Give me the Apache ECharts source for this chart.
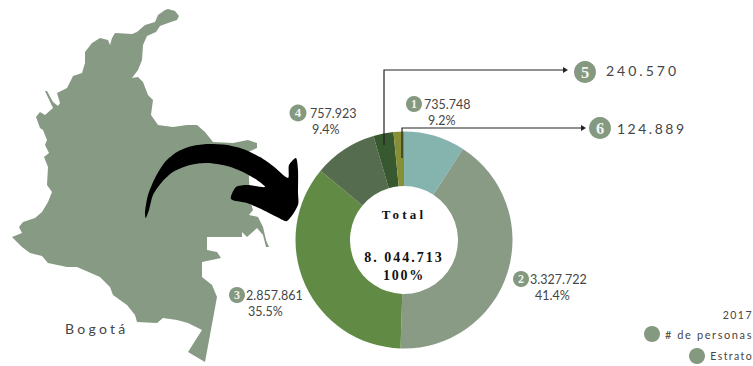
<!DOCTYPE html>
<html>
<head>
<meta charset="utf-8">
<style>html,body{margin:0;padding:0;background:#fff}#main{width:753px;height:366px}</style>
<script src="https://cdn.jsdelivr.net/npm/echarts@6/dist/echarts.min.js"></script>
</head>
<body>
<div id="main"></div>
<script>
// Population of Bogotá by socio-economic stratum, 2017
const strata = ['1', '2', '3', '4', '5', '6'];
const people = [735748, 3327722, 2857861, 757923, 240570, 124889];
const shares = ['9.2%', '41.4%', '35.5%', '9.4%', '', ''];
const peopleText = ['735.748', '3.327.722', '2.857.861', '757.923', '240.570', '124.889'];
const sliceColors = ['#85b3ae', '#8a9b85', '#618b45', '#566c4e', '#38592f', '#878f36'];
const totalText = '8. 044.713';

const SAGE = '#84997f';
const INK = '#454545';
const SANS = 'Lato, "Open Sans", sans-serif';
const SERIF = '"Liberation Serif", "DejaVu Serif", serif';

// Outline of the country silhouette behind the donut
const countryOutline = [
  [168,9],[175,11],[179,16],[177,20],[168,23],[160,26],[156,32],[147,36],[143,45],[142,60],[138,70],[132,78],
  [138,77],[143,82],[148,95],[153,100],[151,115],[158,125],[173,127],[187,125],[197,125],[205,132],[213,142],
  [233,143],[248,140],[257,143],[257,148],[248,152],[249,178],[250,200],[253,210],[249,215],[258,217],[263,227],
  [266,240],[269,247],[266,247],[263,235],[257,228],[247,237],[242,232],[242,237],[207,237],[207,250],[217,252],
  [221,258],[202,262],[202,277],[212,285],[217,297],[205,362],[188,352],[202,330],[188,323],[177,320],[163,318],
  [157,323],[137,322],[135,315],[127,305],[113,295],[110,287],[100,277],[77,267],[67,267],[48,263],[42,256],
  [30,253],[22,247],[12,237],[22,233],[19,227],[23,222],[35,218],[42,212],[48,202],[52,192],[47,185],[48,167],
  [44,157],[49,153],[45,145],[47,140],[43,130],[40,128],[36,117],[40,112],[45,115],[53,108],[45,91],[47,91],
  [53,102],[58,106],[60,103],[57,93],[67,88],[73,76],[82,73],[85,63],[85,52],[92,43],[100,38],[108,40],[110,45],
  [112,38],[115,33],[132,34],[137,32],[145,25],[155,22],[158,15],[165,10]
];

// Curved black arrow pointing from the map to the donut
const arrowOutline = [
  [145.7,218],[145,212],[148,195],[155,178],[165,162],[177,152],[192,146],[208,144],[227,145],[243,149],[260,157],
  [273,166],[288,178],[289,165],[296,158],[298,170],[298,193],[298,205],[287,221],[277,217],[263,210],[247,203],
  [231,199],[236,187],[247,185],[265,187],[257,180],[243,172],[227,166],[207,163],[190,165],[173,172],[162,182],
  [153,195],[149,210]
];

function text(str, x, y, size, opts) {
  const o = opts || {};
  return {
    type: 'text', x: x, y: y, z: 20, silent: true,
    style: {
      text: str,
      fill: o.fill || INK,
      font: (o.weight || 'normal') + ' ' + size + 'px ' + (o.family || SANS),
      textAlign: o.align || 'left',
      textVerticalAlign: 'middle'
    }
  };
}
function badge(label, x, y, r) {
  return [
    { type: 'circle', z: 19, silent: true, shape: { cx: x, cy: y, r: r }, style: { fill: SAGE } },
    text(label, x, y, r * 1.5, { fill: '#f2f4ef', weight: 'bold', family: SERIF, align: 'center' })
  ];
}
function polyline(points) {
  return { type: 'polyline', z: 18, silent: true, shape: { points: points }, style: { stroke: '#222', lineWidth: 1.2, fill: null } };
}
function arrowTip(x, y) {
  return { type: 'polygon', z: 18, silent: true, shape: { points: [[x, y - 3], [x + 5, y], [x, y + 3]] }, style: { fill: '#222' } };
}

const graphics = [
  { type: 'polygon', z: 1, silent: true, shape: { points: countryOutline }, style: { fill: '#869a84' } },
  { type: 'polygon', z: 15, silent: true, shape: { points: arrowOutline, smooth: 0.25 }, style: { fill: '#000' } },
  polyline([[384, 145], [384, 70], [563, 70]]), arrowTip(563, 70),
  polyline([[402, 158], [402, 128], [581, 128]]), arrowTip(581, 128),

  ...badge(strata[0], 414, 104, 8),
  text(peopleText[0], 424, 104, 12.5),
  text(shares[0], 428, 120, 12.5),
  ...badge(strata[3], 298, 113, 8.5),
  text(peopleText[3], 310, 113, 12.5),
  text(shares[3], 312, 129, 12.5),
  ...badge(strata[2], 237, 295, 8),
  text(peopleText[2], 246, 295, 12.5),
  text(shares[2], 248, 311, 12.5),
  ...badge(strata[1], 521, 279, 8),
  text(peopleText[1], 530, 279, 12.5),
  text(shares[1], 535, 295, 12.5),
  ...badge(strata[4], 585, 72, 11),
  text(peopleText[4], 606, 70, 14),
  ...badge(strata[5], 600, 128, 11),
  text(peopleText[5], 617, 128, 14),

  text('Total', 404, 214, 13, { weight: 'bold', family: SERIF, align: 'center', fill: '#111' }),
  text(totalText, 404, 257, 14, { weight: 'bold', family: SERIF, align: 'center', fill: '#111' }),
  text('100%', 404, 275, 14, { weight: 'bold', family: SERIF, align: 'center', fill: '#111' }),

  text('Bogotá', 65, 328, 14),
  text('2017', 753, 315, 10.5, { align: 'right' }),
  { type: 'circle', z: 19, silent: true, shape: { cx: 652, cy: 334, r: 8 }, style: { fill: SAGE } },
  text('# de personas', 753, 334, 11, { align: 'right' }),
  { type: 'circle', z: 19, silent: true, shape: { cx: 697, cy: 356, r: 8 }, style: { fill: SAGE } },
  text('Estrato', 753, 356, 10.5, { align: 'right' })
];

const chart = echarts.init(document.getElementById('main'), null, { renderer: 'svg' });
chart.setOption({
  animation: false,
  backgroundColor: '#fff',
  series: [{
    type: 'pie',
    center: [404, 240],
    radius: [54, 108.5],
    startAngle: 90,
    clockwise: true,
    silent: true,
    label: { show: false },
    labelLine: { show: false },
    data: strata.map((s, i) => ({ name: 'Estrato ' + s, value: people[i], itemStyle: { color: sliceColors[i] } }))
  }],
  graphic: graphics
});

// Tracking for the display text, which zrender has no style option for
const tracking = {
  'Total': '3.2px', '100%': '1.8px', 'Bogotá': '3.3px', '2017': '1.5px', '# de personas': '1.6px', 'Estrato': '1.4px'
};
tracking[totalText] = '2px';
tracking[peopleText[4]] = '3px';
tracking[peopleText[5]] = '2.5px';
document.querySelectorAll('#main svg text').forEach(function (el) {
  const t = tracking[el.textContent];
  if (t) el.style.letterSpacing = t;
});
</script>
</body>
</html>
